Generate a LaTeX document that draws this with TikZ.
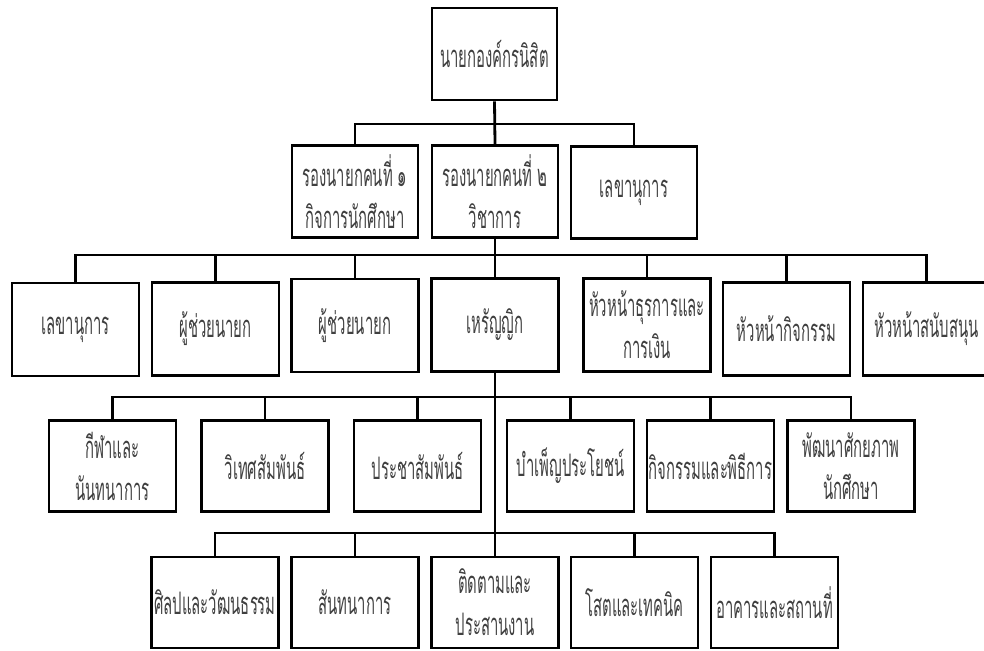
\documentclass[tikz,border=0pt]{standalone}
\usepackage{fontspec}
\newfontfamily\thaifont[Script=Thai,FakeStretch=0.48]{Loma}
\tikzset{
  box/.style={draw, line width=2.8pt, minimum width=126pt, minimum height=92pt,
    inner sep=0pt, align=center, text=black!75,
    font=\thaifont\fontsize{31}{42}\selectfont},
  link/.style={line width=2.8pt},
}
\begin{document}
\begin{tikzpicture}[x=1pt,y=-1pt]
\useasboundingbox (0,0) rectangle (984,650);
\clip (0,0) rectangle (984,650);
% level 1
\node[box,minimum width=125pt] (top) at (494.5,54) {นายกองค์กรนิสิต};
% level 2
\node[box] (a2) at (355,191.5) {รองนายกคนที่ ๑\\กิจการนักศึกษา};
\node[box] (b2) at (495,191.5) {รองนายกคนที่ ๒\\วิชาการ};
\node[box] (c2) at (634,192.5) {เลขานุการ};
% level 3
\node[box,minimum width=127pt,minimum height=93pt] (l31) at (75.5,329.5) {เลขานุการ};
\node[box,minimum width=127pt,minimum height=93pt] (l32) at (215.5,329) {ผู้ช่วยนายก};
\node[box,minimum width=127pt,minimum height=93pt] (l33) at (355,325.5) {ผู้ช่วยนายก};
\node[box,minimum width=127pt,minimum height=93pt] (l34) at (495,325) {เหรัญญิก};
\node[box,minimum width=127pt,minimum height=93pt] (l35) at (647,325) {หัวหน้าธุรการและ\\การเงิน};
\node[box,minimum width=127pt,minimum height=93pt] (l36) at (786.5,329) {หัวหน้ากิจกรรม};
\node[box,minimum width=127pt,minimum height=93pt] (l37) at (926.5,329) {หัวหน้าสนับสนุน};
% level 4
\node[box,minimum width=127pt,minimum height=91pt] (l41) at (112.5,466) {กีฬาและ\\นันทนาการ};
\node[box,minimum width=127pt,minimum height=91pt] (l42) at (265,466) {วิเทศสัมพันธ์};
\node[box,minimum width=127pt,minimum height=91pt] (l43) at (417.5,466) {ประชาสัมพันธ์};
\node[box,minimum width=127pt,minimum height=91pt] (l44) at (570.5,466) {บำเพ็ญประโยชน์};
\node[box,minimum width=127pt,minimum height=91pt] (l45) at (710.5,466) {กิจกรรมและพิธีการ};
\node[box,minimum width=127pt,minimum height=91pt] (l46) at (851,466) {พัฒนาศักยภาพ\\นักศึกษา};
% level 5
\node[box,minimum width=127pt,minimum height=91pt] (l51) at (215,602.5) {ศิลปและวัฒนธรรม};
\node[box,minimum width=127pt,minimum height=91pt] (l52) at (355,602.5) {สันทนาการ};
\node[box,minimum width=127pt,minimum height=91pt] (l53) at (495,602.5) {ติดตามและ\\ประสานงาน};
\node[box,minimum width=127pt,minimum height=91pt] (l54) at (634.5,602.5) {โสตและเทคนิค};
\node[box,minimum width=127pt,minimum height=91pt] (l55) at (774.5,602.5) {อาคารและสถานที่};
% connectors level 1 -> 2
\draw[link] (top.south) -- (b2.north);
\draw[link] (a2.north) -- (a2.north |- 0,124) -- (c2.north |- 0,124) -- (c2.north);
% level 2 -> 3
\draw[link] (b2.south) -- (b2.south |- 0,255);
\draw[link] (l31.north) -- (l31.north |- 0,255) -- (l37.north |- 0,255) -- (l37.north);
\foreach \n in {l32,l33,l34,l35,l36} \draw[link] (\n.north) -- (\n.north |- 0,255);
% trunk from treasurer
\draw[link] (l34.south) -- (l53.north);
% level 4 bus
\draw[link] (l41.north) -- (l41.north |- 0,397) -- (l46.north |- 0,397) -- (l46.north);
\foreach \n in {l42,l43,l44,l45} \draw[link] (\n.north) -- (\n.north |- 0,397);
% level 5 bus
\draw[link] (l51.north) -- (l51.north |- 0,533) -- (l55.north |- 0,533) -- (l55.north);
\foreach \n in {l52,l54} \draw[link] (\n.north) -- (\n.north |- 0,533);
\end{tikzpicture}
\end{document}
